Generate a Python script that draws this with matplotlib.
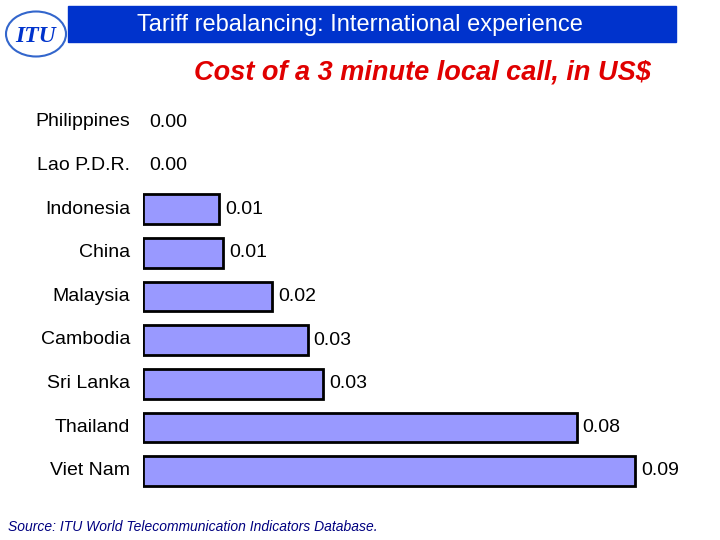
import matplotlib
matplotlib.use("Agg")
import matplotlib.pyplot as plt
from matplotlib.patches import Rectangle, Circle

countries = ["Philippines", "Lao P.D.R.", "Indonesia", "China", "Malaysia",
             "Cambodia", "Sri Lanka", "Thailand", "Viet Nam"]
values = [0.0, 0.0, 0.014, 0.0148, 0.0238, 0.0304, 0.0332, 0.080, 0.0908]

plt.rcParams['font.family'] = ['Liberation Sans', 'DejaVu Sans']
W, H = 720, 540
fig = plt.figure(figsize=(7.2, 5.4), dpi=100)

left = 143 / W
width = 0.1 * 5420 / W
top_px, bot_px = 122 - 21.8, 471 + 21.8
ax = fig.add_axes([left, 1 - bot_px / H, width, (bot_px - top_px) / H])
ax.set_xlim(0, 0.1)
n = len(countries)
ax.set_ylim(n - 0.5, -0.5)
ax.axis('off')
for i, (c, v) in enumerate(zip(countries, values)):
    if v > 0:
        ax.barh(i, v, height=0.68, color='#9999FF', edgecolor='black', linewidth=2)
    ax.text(v + 0.0011, i, f"{v:.2f}", va='center', ha='left', fontsize=14)
    fig.text(130 / W, 1 - (122 + i * 43.6) / H, c, ha='right', va='center', fontsize=14)

fig.patches.append(Rectangle((68 / W, 1 - 42 / H), (676 - 68) / W, 36 / H,
                             transform=fig.transFigure, color='#0033CC'))
fig.text(360 / W, 1 - 25 / H, "Tariff rebalancing: International experience",
         color='white', ha='center', va='center', fontsize=17)
fig.patches.append(Circle((36 / W, 1 - 34 / H), 30 / W, transform=fig.transFigure,
                          facecolor='white', edgecolor='#3366CC', linewidth=1.5))
fig.text(36 / W, 1 - 36 / H, "ITU", color='#0033CC', ha='center', va='center',
         fontsize=17, family='Liberation Serif', fontstyle='italic', fontweight='bold')

fig.text(422 / W, 1 - 72 / H, "Cost of a 3 minute local call, in US$",
         color='#E00000', ha='center', va='center', fontsize=19.5,
         fontstyle='italic', fontweight='bold')
fig.text(8 / W, 1 - 527 / H, "Source: ITU World Telecommunication Indicators Database.",
         color='#000080', ha='left', va='center', fontsize=10,
         fontstyle='italic')

fig.savefig("out.png", dpi=100)
